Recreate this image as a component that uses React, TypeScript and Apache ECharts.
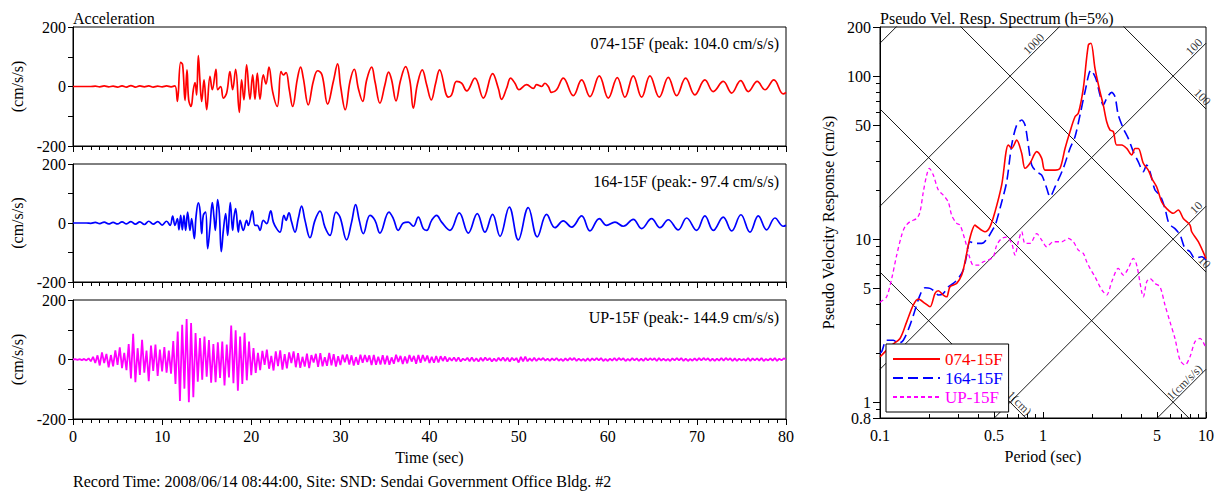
import React, { useEffect, useRef } from "react";
import * as echarts from "echarts";

const FONT = '"Liberation Serif", "Times New Roman", Times, serif';

// ---------- Acceleration records: [time (s), acceleration (cm/s/s)] ----------
const acc074: [number, number][] = [
  [0, 0], [2, 0], [2.5, 1], [3, -1], [3.5, 2], [4, -1], [4.5, 1], [5, -2], [5.5, 2], [6, -2], [6.5, 3], [7, -2], [7.5, 2], [8, -1], [8.5, 2], [9, -2], [9.5, 1], [10, -1], [10.5, 2], [11, -1], [11.44, 2],
  [11.71, -50], [12.08, 81], [12.3, 73], [12.57, -47], [12.79, 56], [12.98, -45], [13.24, -67], [13.5, -11], [13.69, 13], [13.87, -28], [14.06, 104], [14.25, 17], [14.44, -50], [14.7, 22], [15, -78], [15.37, 34], [15.63, -11], [16.04, 58], [16.23, -11], [16.57, 0], [16.87, -39], [17.24, -22], [17.61, 50], [17.91, -11], [18.25, 58], [18.66, -87], [18.92, 22], [19.18, -45], [19.48, 73], [19.86, -43], [20.16, 39], [20.42, -43], [20.68, 45], [20.98, -43], [21.35, 39], [21.65, 9], [21.99, 65], [22.4, -17], [22.92, -67], [23.34, 50], [23.6, 39], [23.9, 47], [24.27, -11], [24.64, -67], [25.17, 25], [25.54, 65], [25.84, 28], [26.4, -62], [26.96, 17], [27.45, 53], [27.94, 39], [28.57, -59], [29.21, 17], [29.69, 76], [30.03, 0], [30.55, -78], [31.08, 17], [31.56, 58], [32.01, -6], [32.5, -50], [32.95, 22], [33.51, 65], [33.88, 17], [34.44, -56], [35, 6], [35.41, 48], [35.75, 22], [36.24, -48], [36.76, 22], [37.32, 67], [37.81, 17], [38.18, -73], [38.63, 6], [39.19, 56], [39.68, 6], [40.2, -45], [40.69, 11], [41.13, 56],
  [42.11, -36], [42.48, -28], [43.04, 17], [43.6, 11], [44.17, -15], [45.1, 28], [46.04, -39], [47.08, 43], [47.72, -6], [48.09, -43], [48.65, -6], [49.1, 28], [49.59, 11], [50.04, -11], [50.9, 6], [51.65, -6], [52.02, 6], [52.58, 0], [52.95, 11], [53.33, 0], [53.7, -20], [54.26, -11], [55.01, 28], [56.13, -31], [57.07, 22], [58, -34], [59.05, 36], [60.06, -39], [61.07, 30], [61.93, -36], [62.86, 36], [63.8, -36], [64.73, 36], [65.78, -36], [66.79, 31], [67.73, -31], [68.74, 28], [69.78, -28], [70.9, 22], [71.84, -17], [72.96, 17], [73.9, -22], [74.91, 20], [75.77, -17], [76.77, 17], [77.64, -11], [78.64, 22], [79.69, -25], [80, -20],
];

const acc164: [number, number][] = [
  [0, 0], [1.5, 0], [2, -1], [2.5, 2], [3, -2], [3.5, 3], [4, -3], [4.5, 2], [5, -3], [5.5, 4], [6, -3], [6.5, 5], [7, -4], [7.5, 4], [8, -5], [8.5, 6], [9, -4], [9.5, 5], [10, -7], [10.5, 6], [10.9, -8],
  [11.18, 23], [11.44, -8], [11.71, 15], [11.89, -23], [12.08, 26], [12.27, -23], [12.45, 26], [12.64, -25], [12.86, 37], [13.13, -25], [13.31, 15], [13.61, -53], [13.8, 20], [14.06, 68], [14.25, 43], [14.44, -36], [14.62, 26], [14.88, 37], [15.11, -87], [15.37, -14], [15.63, 69], [15.82, 20], [15.97, -25], [16.23, 79], [16.42, 32], [16.64, -97], [16.87, -25], [17.13, 32], [17.35, -42], [17.65, 69], [17.91, -25], [18.06, 20], [18.25, 49], [18.55, -31], [18.74, 9], [19.11, -25], [19.48, 9], [19.67, -8], [20.12, 41], [20.42, -8], [20.68, -8], [20.98, -25], [21.35, 9], [21.73, -2], [22.18, 41], [22.48, 3], [22.85, -19], [23.22, -31], [23.67, 26], [23.9, 9], [24.23, 34], [24.53, 3], [24.91, -31], [25.28, 15], [25.65, 57], [26.03, 9], [26.59, -50], [27.15, 9], [27.71, 40], [28.27, -14], [28.83, -42], [29.51, 37], [29.96, 20], [30.7, -57], [31.26, 3], [31.71, 62], [32.12, 9], [32.57, -36], [33.32, 26], [33.88, 9], [34.44, -34], [35.45, 37], [35.94, 15], [36.5, -25], [37.06, 0], [37.62, 3], [38.18, -11], [38.74, 20], [39.3, -19], [39.68, -25], [40.24, 9], [40.8, 26],
  [41.36, 3], [42.3, -25], [43.34, 34], [44.35, -34], [45.36, 32], [46.22, -31], [47.08, 29], [47.91, -45], [48.95, 54], [49.96, -57], [51.08, 52], [52.09, -47], [53.14, 29], [54.08, -16], [55.01, 7], [55.95, -14], [57.07, 24], [58, -27], [59.05, 15], [59.87, -8], [60.81, 3], [61.74, -11], [62.86, 12], [63.8, -19], [64.92, 15], [65.86, -16], [66.79, 11], [67.91, -23], [68.85, 17], [69.97, -25], [70.9, 24], [71.84, -25], [72.96, 20], [73.9, -27], [74.94, 28], [75.95, -31], [76.89, 24], [77.82, -23], [78.76, 17], [79.69, -11], [80, -8],
];

// UP component, sampled every 0.25 s (one row per second)
const upStep = 0.25;
const accUP: number[] = [
  0, 1, -1, 1,
  -2, 2, -3, 4,
  -6, 9, -12, 14,
  -20, 24, -12, 19,
  -26, 15, -23, 31,
  -18, 41, -29, 22,
  -36, 52, -64, 86,
  -76, 38, -52, 66,
  -44, 30, -73, 47,
  -38, 50, -55, 33,
  -40, 42, -44, 30,
  -48, 62, -82, 94,
  -139, 117, -98, 136,
  -144, 123, -127, 89,
  -75, 72, -68, 77,
  -58, 65, -78, 52,
  -76, 58, -62, 60,
  -87, 50, -60, 114,
  -80, 98, -105, 77,
  -82, 90, -70, 60,
  -53, 38, -45, 22,
  -36, 29, -18, 33,
  -31, 12, -37, 27,
  -22, 31, -34, 18,
  -30, 24, -12, 27,
  -26, 21, -28, 9,
  -24, 20, -29, 15,
  -10, 19, -25, 21,
  -23, 8, -21, 22,
  -20, 18, -24, 11,
  -19, 16, -9, 17,
  -17, 14, -20, 8,
  -18, 16, -11, 15,
  -8, 14, -19, 15,
  -18, 9, -17, 14,
  -16, 13, -18, 7,
  -14, 16, -8, 12,
  -15, 10, -13, 15,
  -7, 12, -14, 15,
  -11, 15, -6, 13,
  -12, 9, -11, 12,
  -10, 11, -5, 10,
  -7, 6, -4, 7,
  -6, 7, -7, 3,
  -3, 6, -6, 7,
  -6, 4, -7, 6,
  -5, 7, -3, 5,
  -7, 3, -6, 6,
  -4, 7, -5, 6,
  -7, 6, -3, 5,
  -10, 9, -6, 10,
  -6, 4, -5, 6,
  -5, 4, -2, 5,
  -4, 3, -5, 4,
  -3, 5, -4, 2,
  -5, 4, -4, 5,
  -2, 5, -5, 3,
  -4, 2, -5, 4,
  -5, 4, -3, 5,
  -3, 5, -5, 2,
  -5, 3, -4, 5,
  -4, 5, -2, 4,
  -5, 2, -4, 5,
  -3, 4, -5, 3,
  -5, 5, -3, 4,
  -2, 4, -5, 5,
  -4, 3, -4, 2,
  -5, 4, -3, 5,
  -3, 5, -5, 3,
  -5, 2, -4, 4,
  -4, 5, -3, 5,
  -2, 4, -5, 3,
  -5, 3, -4, 5,
  -4, 5, -2, 4,
  -5, 4, -5, 3,
  -3, 2, -4, 5,
  -5, 4, -3, 4,
  -4, 5, -5, 2,
  -3, 4, -4, 5,
  -5, 3, -3, 4,
  0,
];

// ---------- Pseudo velocity response spectra: [period (s), Sv (cm/s)] ----------
const psv074: [number, number][] = [
  [0.1, 1.9], [0.1024, 1.94], [0.118, 2.24], [0.1327, 2.46], [0.1458, 3.11], [0.16, 3.94], [0.1718, 4.29], [0.1888, 4.04], [0.2027, 3.85], [0.2175, 4.65], [0.228, 4.82], [0.2446, 4.54], [0.2565, 4.43], [0.2688, 5.1], [0.2954, 5.35], [0.3171, 6.02], [0.3323, 7.26], [0.348, 9.19], [0.3652, 11.09], [0.3825, 12.2], [0.39, 12.0], [0.4408, 11.1], [0.4727, 11.9], [0.5076, 14.7], [0.558, 21.5], [0.6125, 37.8], [0.6427, 36.0], [0.6898, 40.5], [0.74, 33.6], [0.7757, 27.2], [0.832, 29.2], [0.915, 34.4], [0.982, 31.3], [1.029, 26.5], [1.185, 26.5], [1.272, 27.2], [1.365, 36.0], [1.464, 45.6], [1.572, 56.3], [1.647, 59.1], [1.767, 84.1], [1.897, 155], [1.97, 159], [2.084, 111.6], [2.237, 80.2], [2.344, 66.4], [2.459, 52.5], [2.576, 46.7], [2.7, 45.6], [2.831, 37.8], [3.04, 37.8], [3.262, 36.0], [3.501, 32.8], [3.668, 36.0], [3.843, 36.0], [4.125, 29.2], [4.426, 26.5], [4.645, 23.6], [4.984, 20.9], [5.35, 16.9], [5.74, 15.4], [6.3, 14.4], [6.76, 15.1], [7.26, 13.4], [7.98, 12.2], [8.17, 11.1], [8.97, 9.64], [10, 7.6],
];
const psv164: [number, number][] = [
  [0.1, 2.0], [0.1024, 2.04], [0.1099, 2.4], [0.1207, 2.4], [0.1295, 2.29], [0.139, 2.4], [0.1528, 2.97], [0.164, 3.67], [0.176, 4.54], [0.1888, 5.03], [0.2027, 4.99], [0.2175, 4.75], [0.228, 4.54], [0.2446, 4.65], [0.2624, 5.1], [0.2817, 5.35], [0.3023, 5.74], [0.3243, 6.46], [0.3403, 7.98], [0.3565, 9.64], [0.3825, 9.42], [0.4207, 9.42], [0.4617, 10.3], [0.4955, 11.6], [0.5076, 12.0], [0.558, 16.9], [0.5988, 22.5], [0.6427, 37.8], [0.6898, 50.1], [0.74, 53.8], [0.7757, 50.1], [0.8125, 37.8], [0.8525, 28.5], [0.915, 25.9], [0.982, 24.7], [1.054, 20.5], [1.104, 18.2], [1.185, 20.9], [1.332, 27.2], [1.464, 36.0], [1.572, 42.5], [1.687, 57.7], [1.81, 80.2], [1.97, 108.9], [2.106, 96.9], [2.237, 76.5], [2.344, 66.4], [2.459, 73.0], [2.64, 79.5], [2.765, 74.7], [2.897, 57.7], [3.109, 47.8], [3.336, 41.5], [3.581, 34.4], [3.843, 29.8], [4.125, 25.9], [4.327, 28.5], [4.533, 25.9], [4.865, 20.0], [5.222, 18.6], [5.604, 15.4], [5.871, 12.8], [6.16, 12.0], [6.45, 11.6], [6.93, 10.6], [7.43, 8.78], [7.98, 8.37], [8.56, 7.62], [9.41, 7.8], [10, 7.44],
];
const psvUP: [number, number][] = [
  [0.1, 4.1], [0.1024, 4.17], [0.1099, 4.43], [0.118, 5.74], [0.1266, 7.98], [0.1359, 10.6], [0.1423, 11.9], [0.1528, 12.8], [0.168, 13.4], [0.176, 14.7], [0.1844, 19.5], [0.1934, 24.7], [0.2007, 27.2], [0.2123, 24.7], [0.228, 20.0], [0.2446, 18.6], [0.2624, 16.9], [0.2754, 14.0], [0.2954, 12.5], [0.3096, 12.2], [0.3323, 9.87], [0.3565, 7.62], [0.3736, 6.93], [0.4009, 6.93], [0.4301, 7.26], [0.4617, 7.44], [0.4955, 7.8], [0.52, 9.19], [0.558, 10.1], [0.5988, 10.3], [0.6427, 9.42], [0.6731, 7.98], [0.7056, 9.64], [0.74, 11.1], [0.7757, 9.42], [0.832, 9.42], [0.915, 10.8], [0.982, 9.87], [1.054, 8.98], [1.157, 9.64], [1.302, 9.64], [1.43, 10.1], [1.534, 9.64], [1.647, 8.57], [1.767, 8.18], [1.854, 7.26], [1.942, 6.62], [2.084, 5.88], [2.237, 5.1], [2.344, 4.75], [2.459, 4.54], [2.64, 5.48], [2.897, 6.62], [3.109, 6.02], [3.336, 6.62], [3.581, 7.62], [3.756, 6.93], [4.031, 4.75], [4.125, 4.43], [4.327, 5.48], [4.533, 5.74], [4.865, 5.35], [5.222, 5.1], [5.604, 3.94], [6.013, 3.11], [6.45, 2.46], [6.93, 1.81], [7.43, 1.69], [7.98, 1.9], [8.56, 2.35], [9.19, 2.46], [10, 2.14],
];

// tick values of the log-log spectrum axes
const periodMajor = [0.1, 0.5, 1, 5, 10];
const periodMinor = [0.2, 0.3, 0.4, 0.6, 0.7, 0.8, 0.9, 2, 3, 4, 6, 7, 8, 9];
const svMajor = [0.8, 1, 5, 10, 50, 100, 200];
const svMinor = [0.9, 2, 3, 4, 6, 7, 8, 9, 20, 30, 40, 60, 70, 80, 90];

// tripartite guide lines
const accelLevels = [1, 10, 100, 1000, 10000]; // cm/s/s
const dispLevels = [0.1, 1, 10, 100]; // cm
const guideLabels = [
  { kind: "a", level: 1000, period: 1.05, text: "1000" },
  { kind: "a", level: 100, period: 9.8, text: "100" },
  { kind: "a", level: 10, period: 9.8, text: "10" },
  { kind: "a", level: 1, period: 9.8, text: "1(cm/s/s)" },
  { kind: "d", level: 100, period: 9.8, text: "100" },
  { kind: "d", level: 10, period: 9.8, text: "10" },
  { kind: "d", level: 0.1, period: 0.78, text: "0.1(cm)" },
];

const panelNames = [
  "074-15F (peak: 104.0 cm/s/s)",
  "164-15F (peak:- 97.4 cm/s/s)",
  "UP-15F (peak:- 144.9 cm/s/s)",
];

const RED = "#ff0000";
const BLUE = "#0000ff";
const MAG = "#ff00ff";

const L = (v: number) => Math.log10(v);
const TWO_PI = 2 * Math.PI;
const fmtLog = (v: number) => String(parseFloat(Math.pow(10, v).toPrecision(3)));

function buildOption(): any {
  const panels = [
    { top: 27, height: 119 },
    { top: 164, height: 118 },
    { top: 300, height: 119 },
  ];
  const grid: any[] = panels.map((p) => ({
    left: 73, top: p.top, width: 713, height: p.height,
    show: true, borderColor: "#000", borderWidth: 1, containLabel: false,
  }));
  grid.push({ left: 880, top: 27, width: 326, height: 391, show: true, borderColor: "#000", borderWidth: 1 });

  const black = { color: "#000", width: 1 };
  const xAxis: any[] = panels.map((_, i) => ({
    type: "value", gridIndex: i, min: 0, max: 80, interval: 10, position: "bottom",
    axisLine: { show: true, onZero: false, lineStyle: black },
    axisTick: { show: true, length: 6, lineStyle: black },
    minorTick: { show: true, splitNumber: 10, length: 4, lineStyle: black },
    axisLabel: { show: i === 2, fontSize: 16, color: "#000", margin: 9, fontFamily: FONT },
    splitLine: { show: false }, minorSplitLine: { show: false },
    name: i === 2 ? "Time (sec)" : "", nameLocation: "middle", nameGap: 30,
    nameTextStyle: { fontSize: 16, color: "#000", fontFamily: FONT },
  }));
  xAxis.push({
    type: "value", gridIndex: 3, min: -1, max: 1, position: "bottom",
    axisLine: { show: true, onZero: false, lineStyle: black },
    axisTick: { show: true, length: 6, inside: true, customValues: periodMajor.map(L), lineStyle: black },
    axisLabel: { show: true, customValues: periodMajor.map(L), formatter: fmtLog, fontSize: 16, color: "#000", margin: 9, fontFamily: FONT },
    splitLine: { show: false },
    name: "Period (sec)", nameLocation: "middle", nameGap: 30,
    nameTextStyle: { fontSize: 16, color: "#000", fontFamily: FONT },
  });
  xAxis.push({
    type: "value", gridIndex: 3, min: -1, max: 1, position: "bottom",
    axisLine: { show: false, onZero: false },
    axisTick: { show: true, length: 4, inside: true, customValues: periodMinor.map(L), lineStyle: black },
    axisLabel: { show: false }, splitLine: { show: false },
  });

  const yAxis: any[] = panels.map((_, i) => ({
    type: "value", gridIndex: i, min: -200, max: 200, interval: 100, position: "left",
    axisLine: { show: true, onZero: false, lineStyle: black },
    axisTick: { show: true, length: 5, lineStyle: black },
    axisLabel: {
      formatter: (v: number) => (Math.abs(v) === 100 ? "" : String(v)),
      fontSize: 16, color: "#000", margin: 7, fontFamily: FONT,
    },
    splitLine: { show: false },
    name: "(cm/s/s)", nameLocation: "middle", nameGap: 48,
    nameTextStyle: { fontSize: 16, color: "#000", fontFamily: FONT },
  }));
  yAxis.push({
    type: "value", gridIndex: 3, min: L(0.8), max: L(200), position: "left",
    axisLine: { show: true, onZero: false, lineStyle: black },
    axisTick: { show: true, length: 7, customValues: svMajor.map(L), lineStyle: black },
    axisLabel: { show: true, customValues: svMajor.map(L), formatter: fmtLog, fontSize: 16, color: "#000", margin: 9, fontFamily: FONT },
    splitLine: { show: false },
    name: "Pseudo Velocity Response (cm/s)", nameLocation: "middle", nameGap: 44,
    nameTextStyle: { fontSize: 16, color: "#000", fontFamily: FONT },
  });
  yAxis.push({
    type: "value", gridIndex: 3, min: L(0.8), max: L(200), position: "left",
    axisLine: { show: false, onZero: false },
    axisTick: { show: true, length: 4, customValues: svMinor.map(L), lineStyle: black },
    axisLabel: { show: false }, splitLine: { show: false },
  });

  const wave = (name: string, idx: number, data: any[], color: string, width: number, smooth: any) => ({
    name, type: "line", xAxisIndex: idx, yAxisIndex: idx, data, symbol: "none", showSymbol: false,
    smooth, lineStyle: { color, width }, itemStyle: { color }, z: 3, silent: true,
  });

  const spec = (name: string, data: [number, number][], color: string, type: any, width: number) => ({
    name, type: "line", xAxisIndex: 3, yAxisIndex: 3,
    data: data.map(([t, v]) => [L(t), L(v)]), symbol: "none", showSymbol: false, smooth: 0.3,
    lineStyle: { color, width, type }, itemStyle: { color }, z: 5, silent: true,
  });

  const guide = (data: number[][]) => ({
    type: "line", xAxisIndex: 3, yAxisIndex: 3, data, symbol: "none", showSymbol: false,
    lineStyle: { color: "#000", width: 0.9 }, clip: true, z: 2, silent: true,
  });

  const series: any[] = [
    wave("acc074", 0, acc074, RED, 1.7, 0.4),
    wave("acc164", 1, acc164, BLUE, 1.7, 0.4),
    wave("accUP", 2, accUP.map((v, i) => [i * upStep, v]), MAG, 1.8, false),
    ...accelLevels.map((a) => guide([0.1, 10].map((T) => [L(T), L((a * T) / TWO_PI)]))),
    ...dispLevels.map((d) => guide([0.1, 10].map((T) => [L(T), L((TWO_PI * d) / T)]))),
    {
      type: "scatter", xAxisIndex: 3, yAxisIndex: 3, symbolSize: 0, silent: true, z: 3,
      data: guideLabels.map((g) => {
        const sv = g.kind === "a" ? (g.level * g.period) / TWO_PI : (TWO_PI * g.level) / g.period;
        return {
          value: [L(g.period), L(sv)],
          label: {
            show: true, formatter: g.text, position: "inside", rotate: g.kind === "a" ? 45 : -45,
            align: "right", verticalAlign: "bottom", fontSize: 12, color: "#000", fontFamily: FONT,
          },
        };
      }),
    },
    spec("UP-15F", psvUP, MAG, [4, 3], 1.3),
    spec("164-15F", psv164, BLUE, [10, 5], 1.6),
    spec("074-15F", psv074, RED, "solid", 1.6),
  ];

  const graphic: any[] = [
    { type: "text", left: 73, top: 10, style: { text: "Acceleration", font: `16px ${FONT}`, fill: "#000" } },
    { type: "text", left: 880, top: 10, style: { text: "Pseudo Vel. Resp. Spectrum (h=5%)", font: `16px ${FONT}`, fill: "#000" } },
    ...panelNames.map((t, i) => ({
      type: "text", x: 779, y: [43, 181, 317][i],
      style: { text: t, font: `16px ${FONT}`, fill: "#000", align: "right", verticalAlign: "middle" },
    })),
    {
      type: "text", x: 73, y: 481,
      style: { text: "Record Time: 2008/06/14 08:44:00, Site: SND: Sendai Government Office Bldg. #2", font: `16px ${FONT}`, fill: "#000", verticalAlign: "middle" },
    },
  ];

  return {
    animation: false,
    backgroundColor: "#fff",
    textStyle: { fontFamily: FONT },
    grid, xAxis, yAxis, series, graphic,
    legend: {
      show: true, orient: "vertical", left: 886, top: 344,
      data: [
        { name: "074-15F", textStyle: { color: RED } },
        { name: "164-15F", textStyle: { color: BLUE } },
        { name: "UP-15F", textStyle: { color: MAG } },
      ],
      itemWidth: 47, itemHeight: 12, itemGap: 1, selectedMode: false,
      itemStyle: { opacity: 0, borderWidth: 0 },
      backgroundColor: "#fff", borderColor: "#000", borderWidth: 1, borderRadius: 0,
      padding: [6, 6, 6, 6],
      textStyle: { fontSize: 17, lineHeight: 18, fontFamily: FONT },
      z: 10,
    },
  };
}

export default function App() {
  const ref = useRef<HTMLDivElement>(null);
  useEffect(() => {
    if (!ref.current) return;
    const chart = echarts.init(ref.current, undefined, { renderer: "svg" });
    chart.setOption(buildOption());
    return () => chart.dispose();
  }, []);
  return (
    <div
      ref={ref}
      style={{ position: "fixed", left: 0, top: 0, width: 1224, height: 492, background: "#fff" }}
    />
  );
}
